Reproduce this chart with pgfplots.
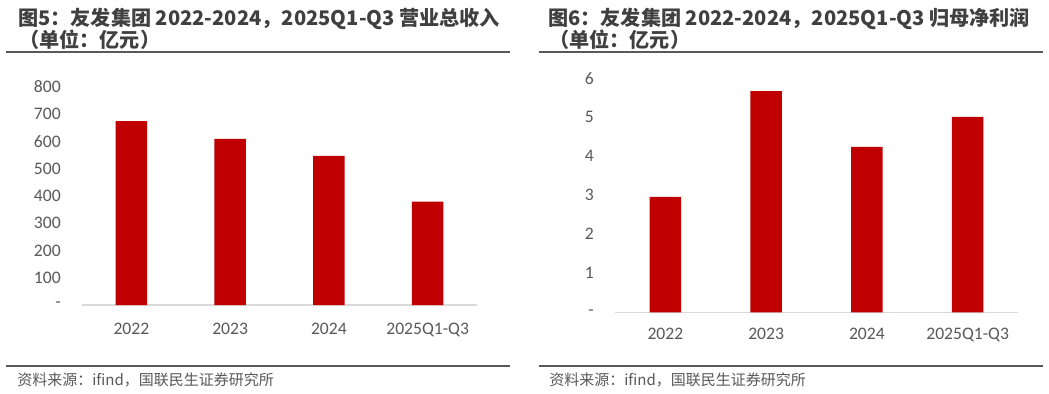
\documentclass[border=0pt]{standalone}
\usepackage{pgfplots}
\pgfplotsset{compat=1.18}
\usepackage{fontspec}
\setmainfont{Carlito}
\newfontfamily\cjk{Noto Sans CJK SC}
\definecolor{barred}{HTML}{C00000}
\definecolor{tickgray}{HTML}{595959}
\definecolor{titlegray}{HTML}{404040}
\definecolor{rulegray}{HTML}{595959}
\definecolor{axgray}{HTML}{D9D9D9}
\pgfplotsset{
  mybar/.style={
    scale only axis,
    anchor=south west,
    xmin=-0.5, xmax=3.5, ymin=0,
    axis x line*=bottom, axis y line*=left,
    x axis line style={draw=axgray, line width=0.9pt},
    y axis line style={draw=none},
    major tick length=0pt,
    tick style={draw=none},
    xtick={0,1,2,3},
    xticklabels={2022,2023,2024,2025Q1-Q3},
    tick label style={font=\fontsize{13.2}{15}\selectfont, text=tickgray, inner sep=0pt},
    yticklabel style={anchor=east, xshift=-15.75pt},
    xticklabel style={anchor=north},
    ybar, bar width=23.6pt,
    /pgf/number format/assume math mode=true,
  }
}
\begin{document}
\begin{tikzpicture}
\begin{scope}[x=0.75pt,y=-0.75pt]
\path[use as bounding box, fill=white] (0,0) rectangle (1049,393);
% titles
\node[anchor=base west, inner sep=0, text=titlegray, font=\cjk\bfseries\fontsize{15.1}{18}\selectfont] at (18,25) {图5：友发集团 2022-2024，2025Q1-Q3 营业总收入};
\node[anchor=base west, inner sep=0, text=titlegray, font=\cjk\bfseries\fontsize{15.1}{18}\selectfont] at (19,47) {（单位：亿元）};
\node[anchor=base west, inner sep=0, text=titlegray, font=\cjk\bfseries\fontsize{15.1}{18}\selectfont] at (548,25) {图6：友发集团 2022-2024，2025Q1-Q3 归母净利润};
\node[anchor=base west, inner sep=0, text=titlegray, font=\cjk\bfseries\fontsize{15.1}{18}\selectfont] at (549,47) {（单位：亿元）};
% rules
\draw[rulegray, line width=1.5pt] (6,51.5) -- (510,51.5);
\draw[rulegray, line width=1.5pt] (539,51.5) -- (1043,51.5);
\draw[rulegray, line width=1.5pt] (6,365.5) -- (510,365.5);
\draw[rulegray, line width=1.5pt] (539,365.5) -- (1043,365.5);
% sources
\node[anchor=base west, inner sep=0, text=tickgray, font=\cjk\fontsize{11.25}{13}\selectfont] at (17,385) {资料来源：ifind，国联民生证券研究所};
\node[anchor=base west, inner sep=0, text=tickgray, font=\cjk\fontsize{11.25}{13}\selectfont] at (549,385) {资料来源：ifind，国联民生证券研究所};
\end{scope}

\begin{axis}[mybar,
  at={(61.5pt,-228.75pt)},
  width=296.25pt, height=163.5pt,
  ymax=800,
  ytick={0,100,200,300,400,500,600,700,800},
  yticklabels={-,100,200,300,400,500,600,700,800},
  xticklabel style={yshift=-13.3pt},
]
\addplot[fill=barred, draw=none] coordinates {(0,674.5) (1,609.5) (2,547.5) (3,379)};
\end{axis}

\begin{axis}[mybar,
  at={(461.25pt,-234.2pt)},
  width=302.25pt, height=175.5pt,
  ymax=6,
  ytick={0,1,2,3,4,5,6},
  yticklabels={-,1,2,3,4,5,6},
  xticklabel style={yshift=-11.8pt},
]
\addplot[fill=barred, draw=none] coordinates {(0,2.96) (1,5.67) (2,4.24) (3,5.01)};
\end{axis}
\end{tikzpicture}
\end{document}
